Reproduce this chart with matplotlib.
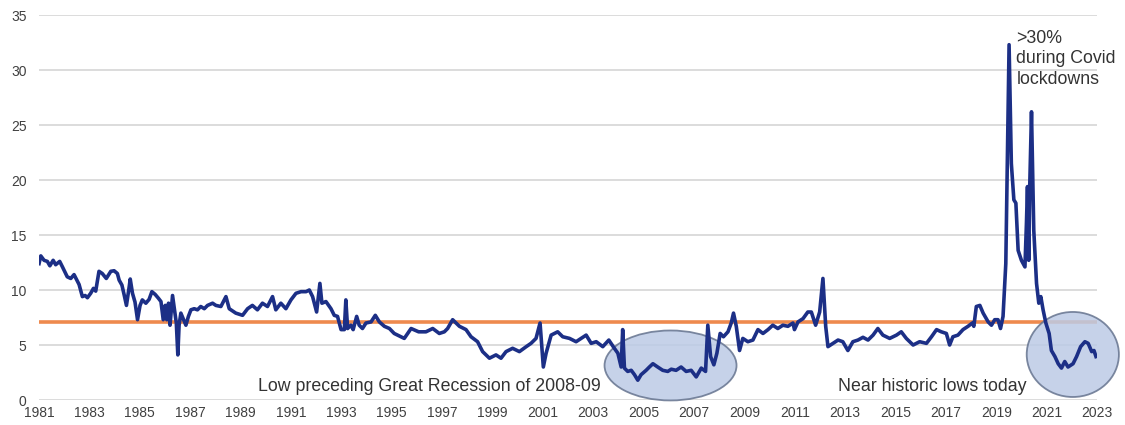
import matplotlib
matplotlib.use("Agg")
import matplotlib.pyplot as plt
from matplotlib.patches import Ellipse

# rate (decimal year, percent)
years = [1981.00, 1981.07, 1981.20, 1981.33, 1981.43, 1981.56, 1981.66, 1981.82, 1981.93,
         1982.12, 1982.26, 1982.39, 1982.59, 1982.72, 1982.83, 1982.92, 1983.05, 1983.16,
         1983.25, 1983.38, 1983.51, 1983.67, 1983.85, 1983.98, 1984.11, 1984.18, 1984.29,
         1984.38, 1984.47, 1984.58, 1984.62, 1984.71, 1984.81, 1984.91, 1985.01, 1985.10,
         1985.24, 1985.37, 1985.48, 1985.61, 1985.74, 1985.84, 1985.93, 1986.01, 1986.07,
         1986.14, 1986.20, 1986.30, 1986.39, 1986.45, 1986.51, 1986.56, 1986.63, 1986.72,
         1986.83, 1986.93, 1987.03, 1987.16, 1987.29, 1987.42, 1987.56, 1987.69, 1987.89,
         1988.02, 1988.22, 1988.42, 1988.55, 1988.81, 1989.08, 1989.28, 1989.47, 1989.67,
         1989.87, 1990.07, 1990.27, 1990.40, 1990.60, 1990.80, 1991.00, 1991.20, 1991.40,
         1991.60, 1991.73, 1991.86, 1992.02, 1992.15, 1992.23, 1992.39, 1992.59, 1992.72,
         1992.85, 1992.99, 1993.12, 1993.18, 1993.25, 1993.38, 1993.47, 1993.61, 1993.71,
         1993.84, 1993.98, 1994.18, 1994.35, 1994.51, 1994.71, 1994.91, 1995.10, 1995.50,
         1995.77, 1996.07, 1996.36, 1996.63, 1996.89, 1997.09, 1997.22, 1997.42, 1997.69,
         1997.95, 1998.15, 1998.41, 1998.61, 1998.88, 1999.14, 1999.34, 1999.54, 1999.80,
         2000.07, 2000.34, 2000.53, 2000.73, 2000.89, 2001.02, 2001.13, 2001.33, 2001.59,
         2001.79, 2002.06, 2002.32, 2002.72, 2002.92, 2003.12, 2003.38, 2003.62, 2003.84,
         2003.98, 2004.11, 2004.17, 2004.24, 2004.37, 2004.51, 2004.64, 2004.77, 2004.90,
         2005.10, 2005.23, 2005.37, 2005.56, 2005.76, 2005.96, 2006.10, 2006.29, 2006.49,
         2006.69, 2006.89, 2007.09, 2007.29, 2007.46, 2007.55, 2007.66, 2007.79, 2007.91,
         2008.04, 2008.17, 2008.35, 2008.48, 2008.57, 2008.68, 2008.81, 2008.94, 2009.14,
         2009.34, 2009.54, 2009.74, 2009.94, 2010.13, 2010.33, 2010.53, 2010.73, 2010.93,
         2010.99, 2011.13, 2011.33, 2011.52, 2011.66, 2011.83, 2011.99, 2012.12, 2012.23,
         2012.32, 2012.52, 2012.72, 2012.91, 2013.11, 2013.31, 2013.51, 2013.71, 2013.91,
         2014.11, 2014.30, 2014.50, 2014.77, 2015.04, 2015.23, 2015.43, 2015.70, 2015.96,
         2016.23, 2016.43, 2016.63, 2016.82, 2017.02, 2017.15, 2017.28, 2017.48, 2017.68,
         2017.88, 2018.05, 2018.11, 2018.21, 2018.35, 2018.48, 2018.68, 2018.81, 2018.94,
         2019.07, 2019.17, 2019.27, 2019.38, 2019.51, 2019.60, 2019.70, 2019.78, 2019.87,
         2020.00, 2020.14, 2020.20, 2020.24, 2020.29, 2020.33, 2020.40, 2020.49, 2020.60,
         2020.69, 2020.77, 2020.86, 2020.97, 2021.10, 2021.19, 2021.33, 2021.46, 2021.59,
         2021.72, 2021.85, 2022.05, 2022.19, 2022.35, 2022.52, 2022.65, 2022.79, 2022.88,
         2022.96]
rate = [12.4, 13.1, 12.7, 12.6, 12.2, 12.7, 12.3, 12.6, 12.1,
        11.2, 11.05, 11.4, 10.5, 9.4, 9.5, 9.3, 9.7, 10.15,
        9.9, 11.7, 11.5, 11.05, 11.7, 11.75, 11.5, 10.9, 10.45,
        9.55, 8.6, 10.3, 11.0, 9.7, 8.9, 7.3, 8.6, 9.1,
        8.8, 9.15, 9.85, 9.6, 9.25, 8.95, 7.3, 8.6, 7.3,
        8.8, 6.8, 9.5, 8.0, 7.0, 4.1, 6.8, 7.9, 7.4,
        6.8, 7.6, 8.2, 8.3, 8.2, 8.5, 8.3, 8.6, 8.8,
        8.6, 8.5, 9.4, 8.3, 7.9, 7.7, 8.3, 8.6, 8.2,
        8.8, 8.5, 9.4, 8.2, 8.8, 8.3, 9.1, 9.7, 9.85,
        9.85, 10.0, 9.4, 8.0, 10.6, 8.8, 8.95, 8.3, 7.7,
        7.6, 6.4, 6.4, 9.1, 6.5, 6.8, 6.4, 7.6, 6.8,
        6.5, 7.0, 7.1, 7.7, 7.1, 6.7, 6.5, 6.05, 5.6,
        6.5, 6.2, 6.2, 6.5, 6.05, 6.2, 6.5, 7.3, 6.7,
        6.4, 5.75, 5.3, 4.4, 3.8, 4.1, 3.8, 4.4, 4.7,
        4.4, 4.85, 5.15, 5.6, 7.0, 3.0, 4.25, 5.9, 6.2,
        5.75, 5.6, 5.3, 5.9, 5.15, 5.3, 4.85, 5.45, 4.7,
        4.25, 3.0, 6.4, 2.9, 2.6, 2.7, 2.3, 1.8, 2.3,
        2.7, 3.0, 3.3, 3.0, 2.7, 2.6, 2.8, 2.7, 3.0,
        2.6, 2.7, 2.1, 2.9, 2.6, 6.8, 3.95, 3.2, 4.25,
        6.05, 5.75, 6.2, 7.0, 7.9, 6.7, 4.5, 5.6, 5.3,
        5.45, 6.4, 6.05, 6.4, 6.8, 6.5, 6.8, 6.7, 7.0,
        6.4, 7.1, 7.4, 8.0, 8.0, 6.8, 8.0, 11.05, 6.7,
        4.85, 5.15, 5.45, 5.3, 4.5, 5.3, 5.45, 5.7, 5.45,
        5.9, 6.5, 5.9, 5.6, 5.9, 6.2, 5.6, 5.0, 5.3,
        5.15, 5.75, 6.4, 6.2, 6.05, 5.0, 5.75, 5.9, 6.4,
        6.7, 7.0, 6.7, 8.5, 8.6, 7.9, 7.1, 6.8, 7.3,
        7.3, 6.5, 7.6, 12.4, 32.3, 21.5, 18.2, 17.9, 13.6,
        12.7, 12.1, 16.1, 19.4, 12.7, 19.4, 26.2, 15.45, 10.6,
        8.8, 9.4, 8.2, 7.0, 6.05, 4.5, 3.95, 3.3, 2.9,
        3.5, 3.0, 3.3, 3.95, 4.85, 5.3, 5.15, 4.4, 4.5,
        3.95]

avg_rate = 7.1
year_ticks = list(range(1981, 2024, 2))
y_ticks = [0, 5, 10, 15, 20, 25, 30, 35]

plt.rcParams['font.family'] = ['Liberation Sans', 'DejaVu Sans']

fig = plt.figure(figsize=(11.25, 4.25), dpi=100)
ax = fig.add_axes([0.0347, 0.0588, 0.9404, 0.9059])

ax.set_xlim(1981, 2023)
ax.set_ylim(0, 35)
ax.set_yticks(y_ticks)
ax.set_xticks(year_ticks)
ax.set_xticklabels([str(y) for y in year_ticks])
ax.grid(axis='y', color='#d9d9d9', linewidth=1.3, zorder=0)
ax.set_axisbelow(True)
for s in ax.spines.values():
    s.set_visible(False)
ax.tick_params(axis='both', length=0, labelsize=10, colors='#404040')
ax.tick_params(axis='y', pad=9)
ax.tick_params(axis='x', pad=4)

ax.axhline(avg_rate, color='#ee8a4e', linewidth=2.6, zorder=2)

# highlight ellipses
ell_style = dict(facecolor='#bccbe6', edgecolor='#66748f', linewidth=1.3, alpha=0.85, zorder=3, clip_on=False)
ax.add_patch(Ellipse((2006.07, 3.14), 5.24, 6.36, **ell_style))
ax.add_patch(Ellipse((2022.04, 4.14), 3.66, 7.73, **ell_style))

ax.plot(years, rate, color='#1c2f86', linewidth=2.6, zorder=4, solid_joinstyle='round')

note_style = dict(fontsize=12.8, color='#333333', zorder=5)
ax.text(1989.68, 0.85, 'Low preceding Great Recession of 2008-09', **note_style)
ax.text(2012.7, 0.85, 'Near historic lows today', **note_style)
ax.text(2019.8, 33.65, '>30%\nduring Covid\nlockdowns', va='top', linespacing=1.28, **note_style)

fig.savefig('out.png', dpi=100)
